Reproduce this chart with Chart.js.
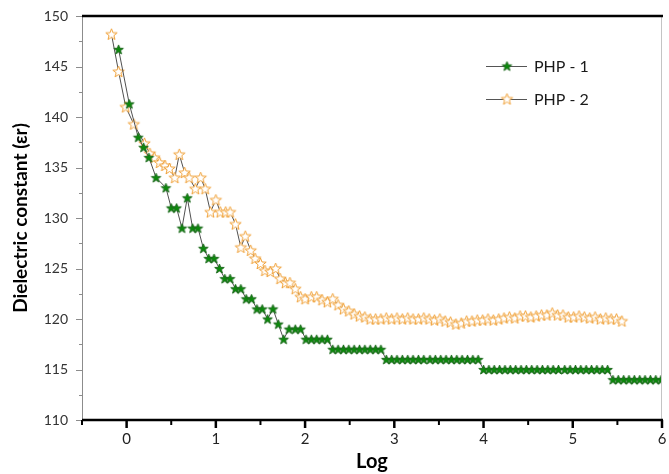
<!DOCTYPE html>
<html>
<head>
<meta charset="utf-8">
<script src="https://cdn.jsdelivr.net/npm/chart.js@4.4.0/dist/chart.umd.min.js"></script>
<style>
  html, body { margin: 0; padding: 0; background: #fff; }
  #wrap { width: 669px; height: 474px; position: relative; }
</style>
</head>
<body>
<div id="wrap"><canvas id="chart"></canvas></div>
<script>
// PHP - 1 (green filled stars)
const php1X = [
  -0.09, 0.03, 0.13, 0.19, 0.25, 0.33, 0.44, 0.50, 0.56, 0.62, 0.68, 0.74, 0.80,
  0.86, 0.92, 0.98, 1.04, 1.10, 1.16, 1.22, 1.28, 1.34, 1.40, 1.46, 1.52, 1.58,
  1.64, 1.70, 1.76, 1.82, 1.89, 1.95,
  2.01, 2.07, 2.13, 2.19, 2.25,
  2.31, 2.37, 2.43, 2.49, 2.55, 2.61, 2.67, 2.73, 2.79, 2.85,
  2.91, 2.97, 3.03, 3.09, 3.15, 3.21, 3.27, 3.33, 3.40, 3.46, 3.52, 3.58, 3.64,
  3.70, 3.76, 3.82, 3.88, 3.94,
  4.00, 4.06, 4.12, 4.18, 4.24, 4.30, 4.36, 4.42, 4.48, 4.54, 4.60, 4.66, 4.72,
  4.78, 4.84, 4.91, 4.97, 5.03, 5.09, 5.15, 5.21, 5.27, 5.33, 5.39,
  5.45, 5.51, 5.57, 5.63, 5.69, 5.75, 5.81, 5.87, 5.93, 5.99
];
const php1Y = [
  146.7, 141.3, 138, 137, 136, 134, 133, 131, 131, 129, 132, 129, 129,
  127, 126, 126, 125, 124, 124, 123, 123, 122, 122, 121, 121, 120,
  121, 119.5, 118, 119, 119, 119,
  118, 118, 118, 118, 118,
  117, 117, 117, 117, 117, 117, 117, 117, 117, 117,
  116, 116, 116, 116, 116, 116, 116, 116, 116, 116, 116, 116, 116,
  116, 116, 116, 116, 116,
  115, 115, 115, 115, 115, 115, 115, 115, 115, 115, 115, 115, 115,
  115, 115, 115, 115, 115, 115, 115, 115, 115, 115, 115,
  114, 114, 114, 114, 114, 114, 114, 114, 114, 114
];

// PHP - 2 (orange hollow stars)
const php2X = [
  -0.17, -0.09, -0.01, 0.08, 0.20, 0.26, 0.31, 0.37, 0.43, 0.48, 0.54, 0.59,
  0.65, 0.70, 0.77, 0.83, 0.88, 0.94, 1.00, 1.05, 1.11, 1.16, 1.22, 1.28,
  1.33, 1.39, 1.44, 1.50, 1.55, 1.61, 1.67, 1.72, 1.78, 1.83, 1.89, 1.95,
  2.00, 2.07, 2.13, 2.19, 2.25, 2.31, 2.37, 2.43, 2.49, 2.55, 2.61, 2.67,
  2.73, 2.79, 2.85, 2.91, 2.97, 3.03, 3.09, 3.15, 3.21, 3.27, 3.33, 3.39,
  3.45, 3.51, 3.57, 3.63, 3.69, 3.75, 3.81, 3.87, 3.93, 3.99, 4.05, 4.11,
  4.17, 4.23, 4.29, 4.35, 4.41, 4.47, 4.53, 4.59, 4.65, 4.71, 4.77, 4.83,
  4.89, 4.95, 5.01, 5.07, 5.13, 5.19, 5.25, 5.31, 5.37, 5.43, 5.49, 5.55
];
const php2Y = [
  148.2, 144.5, 141.0, 139.3, 137.4, 136.4, 136.0, 135.5, 135.2, 134.9, 134.0, 136.3,
  134.5, 134.0, 132.9, 134.0, 132.9, 130.6, 131.8, 130.6, 130.6, 130.6, 129.4, 127.1,
  128.2, 126.8, 126.0, 125.5, 124.8, 124.7, 125.0, 124.0, 123.6, 123.6, 123.0, 122.2,
  122.0, 122.2, 122.2, 121.9, 121.7, 122.0, 121.4, 121.0, 120.8, 120.5, 120.3, 120.2,
  120.0, 120.0, 120.0, 120.1, 120.0, 120.1, 120.0, 120.1, 120.0, 120.0, 120.1, 120.0,
  119.9, 120.0, 119.8, 119.7, 119.5, 119.6, 119.8, 119.8, 119.9, 119.9, 120.0, 119.9,
  120.0, 120.1, 120.2, 120.1, 120.3, 120.3, 120.2, 120.3, 120.4, 120.4, 120.6, 120.4,
  120.4, 120.2, 120.2, 120.3, 120.2, 120.1, 120.2, 120.0, 120.1, 120.0, 120.0, 119.8
];

const xTicks = [0, 1, 2, 3, 4, 5, 6];
const yTicks = [110, 115, 120, 125, 130, 135, 140, 145, 150];
const seriesNames = ['PHP - 1', 'PHP - 2'];

const FONT = "Lato, 'Open Sans', 'DejaVu Sans', sans-serif";

const makeStar = (fill, stroke, r) => {
  const size = Math.ceil(r * 2 + 3);
  const c = document.createElement('canvas');
  c.width = size;
  c.height = size;
  const g = c.getContext('2d');
  const cx = size / 2;
  const cy = size / 2 + 0.5;
  g.beginPath();
  for (let i = 0; i < 10; i++) {
    const rad = i % 2 === 0 ? r : r * 0.42;
    const a = -Math.PI / 2 + i * Math.PI / 5;
    const px = cx + rad * Math.cos(a);
    const py = cy + rad * Math.sin(a);
    if (i === 0) g.moveTo(px, py); else g.lineTo(px, py);
  }
  g.closePath();
  g.fillStyle = fill;
  g.fill();
  g.lineWidth = 1;
  g.strokeStyle = stroke;
  g.stroke();
  return c;
};

const greenStar = makeStar('#0a8a0a', '#1f6a1f', 5);
const orangeStar = makeStar('#ffffff', '#f0a23a', 6);

const toPoints = (xs, ys) => xs.map((x, i) => ({ x, y: ys[i] }));

const framePlugin = {
  id: 'frame',
  afterDraw(chart) {
    const { ctx, chartArea: a, scales: { x, y } } = chart;
    ctx.save();

    // thin left / right borders
    ctx.lineWidth = 1;
    ctx.strokeStyle = '#8c8c8c';
    ctx.beginPath();
    ctx.moveTo(a.left + 0.5, a.top);
    ctx.lineTo(a.left + 0.5, a.bottom);
    ctx.stroke();
    ctx.strokeStyle = '#c4c4c4';
    ctx.beginPath();
    ctx.moveTo(a.right - 0.5, a.top);
    ctx.lineTo(a.right - 0.5, a.bottom);
    ctx.stroke();

    // y ticks (major + minor)
    ctx.strokeStyle = '#8c8c8c';
    yTicks.forEach((v, i) => {
      const py = Math.round(y.getPixelForValue(v)) + 0.5;
      ctx.beginPath();
      ctx.moveTo(a.left - 6, py);
      ctx.lineTo(a.left, py);
      ctx.stroke();
      if (i < yTicks.length - 1) {
        const pm = Math.round(y.getPixelForValue((v + yTicks[i + 1]) / 2)) + 0.5;
        ctx.beginPath();
        ctx.moveTo(a.left - 3, pm);
        ctx.lineTo(a.left, pm);
        ctx.stroke();
      }
    });

    // thick top / bottom axes
    ctx.strokeStyle = '#000';
    ctx.lineWidth = 2.5;
    ctx.beginPath();
    ctx.moveTo(a.left, a.top);
    ctx.lineTo(a.right + 1, a.top);
    ctx.moveTo(a.left, a.bottom);
    ctx.lineTo(a.right + 1, a.bottom);
    ctx.stroke();

    // x ticks (major + minor)
    xTicks.forEach((v) => {
      const px = x.getPixelForValue(v);
      ctx.lineWidth = 2.5;
      ctx.beginPath();
      ctx.moveTo(px, a.bottom);
      ctx.lineTo(px, a.bottom + 8);
      ctx.stroke();
      const ph = x.getPixelForValue(v - 0.5);
      ctx.lineWidth = 2;
      ctx.beginPath();
      ctx.moveTo(ph, a.bottom);
      ctx.lineTo(ph, a.bottom + 5);
      ctx.stroke();
    });

    // legend
    const rows = [
      { name: seriesNames[0], img: greenStar, y: 66 },
      { name: seriesNames[1], img: orangeStar, y: 99 },
    ];
    rows.forEach(r => {
      ctx.strokeStyle = '#555';
      ctx.lineWidth = 1;
      ctx.beginPath();
      ctx.moveTo(486, r.y + 0.5);
      ctx.lineTo(527, r.y + 0.5);
      ctx.stroke();
      ctx.drawImage(r.img, 507 - r.img.width / 2, r.y - r.img.height / 2);
      ctx.fillStyle = '#1a1a1a';
      ctx.font = `16px ${FONT}`;
      ctx.textBaseline = 'middle';
      ctx.textAlign = 'left';
      ctx.fillText(r.name, 534, r.y + 1);
    });

    ctx.restore();
  }
};

window.onload = () => {
  const ctx = document.getElementById('chart').getContext('2d');
  new Chart(ctx, {
    type: 'line',
    data: {
      datasets: [
        {
          label: seriesNames[0],
          data: toPoints(php1X, php1Y),
          borderColor: '#505050',
          borderWidth: 1,
          pointStyle: greenStar,
          pointRadius: 5,
          tension: 0,
          fill: false,
        },
        {
          label: seriesNames[1],
          data: toPoints(php2X, php2Y),
          borderColor: '#505050',
          borderWidth: 1,
          pointStyle: orangeStar,
          pointRadius: 6,
          tension: 0,
          fill: false,
        },
      ]
    },
    options: {
      responsive: true,
      maintainAspectRatio: false,
      animation: false,
      layout: { padding: { top: 16, right: 6, left: 0, bottom: 0 } },
      plugins: {
        legend: { display: false },
        tooltip: { enabled: false },
      },
      scales: {
        x: {
          type: 'linear',
          min: -0.5,
          max: 6,
          afterBuildTicks: (scale) => { scale.ticks = xTicks.map(v => ({ value: v })); },
          afterFit: (scale) => {
            scale.height = 54;
            scale.paddingLeft = 0;
            scale.paddingRight = 0;
          },
          grid: { display: false, drawTicks: false },
          border: { display: false },
          ticks: {
            padding: 10,
            maxRotation: 0,
            color: '#222',
            font: { family: FONT, size: 15 },
          },
          title: {
            display: true,
            text: 'Log',
            color: '#000',
            padding: { top: 0, bottom: 0 },
            font: { family: FONT, size: 20, weight: 'bold' },
          },
        },
        y: {
          type: 'linear',
          min: 110,
          max: 150,
          afterBuildTicks: (scale) => { scale.ticks = yTicks.map(v => ({ value: v })); },
          afterFit: (scale) => {
            scale.width = 82;
            scale.paddingTop = 0;
            scale.paddingBottom = 0;
          },
          grid: { display: false, drawTicks: false },
          border: { display: false },
          ticks: {
            padding: 14,
            color: '#333',
            font: { family: FONT, size: 14 },
          },
          title: {
            display: true,
            text: 'Dielectric constant (εr)',
            color: '#000',
            padding: { top: 9, bottom: 0 },
            font: { family: FONT, size: 19, weight: 'bold' },
          },
        },
      },
    },
    plugins: [framePlugin],
  });
};
</script>
</body>
</html>
